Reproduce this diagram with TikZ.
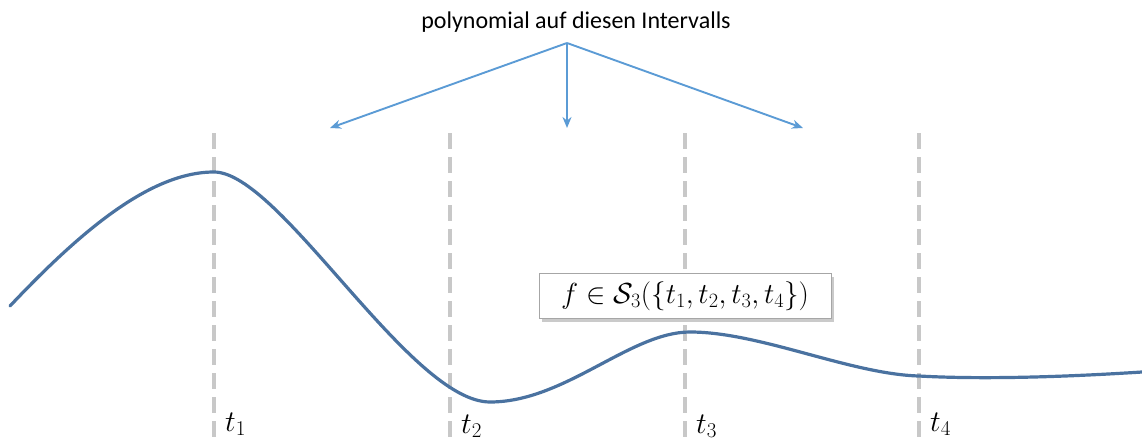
\RequirePackage{fix-cm}
\documentclass[tikz,border=0pt]{standalone}
\usepackage{fontspec}
\setmainfont{Carlito}
\usepackage{amsmath}
\usetikzlibrary{arrows.meta,shadows}
\definecolor{curveblue}{HTML}{4A72A0}
\definecolor{arrowblue}{HTML}{5B9BD5}
\definecolor{dashgray}{HTML}{C8C8C8}
\begin{document}
\begin{tikzpicture}[x=1pt,y=-1pt,
  guide/.style={draw=dashgray,line width=3.5pt,dash pattern=on 16pt off 8pt},
  pointer/.style={draw=arrowblue,line width=1.9pt,-{Stealth[length=11pt,width=9pt]}},
  knotlabel/.style={anchor=base west,inner sep=0pt,font=\fontsize{30}{32}\selectfont},
  spline/.style={draw=curveblue,line width=3.2pt,line cap=round}]
\useasboundingbox (0,0) rectangle (1142,441);
% dashed knot guides
\foreach \x/\n in {214/1,450/2,685/3,919/4}{
  \coordinate (g\n top) at (\x,133);
  \coordinate (g\n bot) at (\x,437);
  \draw[guide] (g\n top) -- (g\n bot);
}
% curve
\draw[spline] (10,306) .. controls (80,232) and (150,172) .. (214,172)
  .. controls (280,172) and (410,402) .. (490,402)
  .. controls (565,402) and (630,332) .. (690,332)
  .. controls (760,332) and (850,374) .. (919,376)
  .. controls (990,380) and (1080,376) .. (1142,372);
% knot labels
\node[knotlabel] (l1) at (225,431) {$t_1$};
\node[knotlabel] (l2) at (461,433) {$t_2$};
\node[knotlabel] (l3) at (696,433) {$t_3$};
\node[knotlabel] (l4) at (930,431) {$t_4$};
% formula box
\node[draw=black!35,fill=white,line width=0.8pt,minimum width=292pt,minimum height=45pt,
  drop shadow={shadow xshift=3pt,shadow yshift=-3pt,opacity=0.35,fill=black!60},
  font=\fontsize{29}{32}\selectfont] (box) at (685,296)
  {$f\in\mathcal{S}_3(\{t_1,t_2,t_3,t_4\})$};
% title and arrows
\node[font=\fontsize{24}{28}\selectfont,inner sep=0pt] (title) at (576,22) {polynomial auf diesen Intervalls};
\coordinate (hub) at (567,43);
\coordinate (a1) at (330,128);
\coordinate (a2) at (567,128);
\coordinate (a3) at (803,128);
\draw[pointer] (hub) -- (a1);
\draw[pointer] (hub) -- (a2);
\draw[pointer] (hub) -- (a3);
\end{tikzpicture}
\end{document}
